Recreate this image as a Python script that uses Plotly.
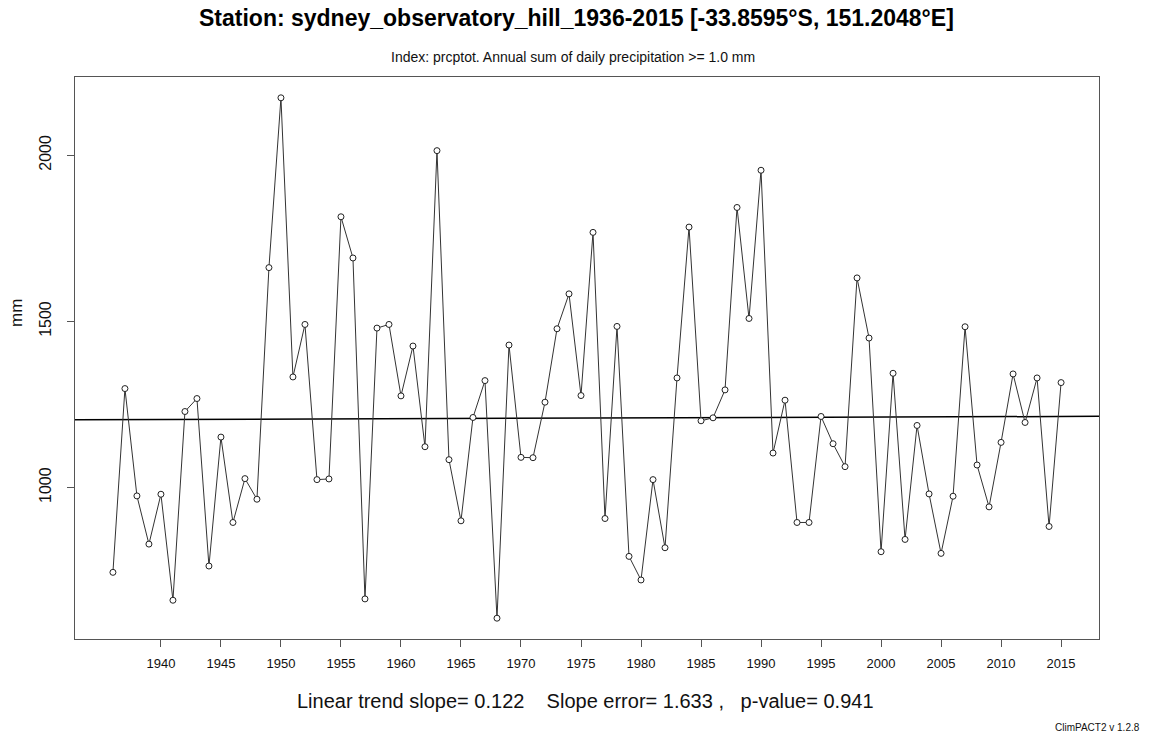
import numpy as np
import plotly.graph_objects as go

years = list(range(1936, 2016))
prcptot = [
    745, 1298, 975, 830, 980, 661, 1229, 1268, 764, 1152,
    895, 1027, 965, 1662, 2173, 1333, 1491, 1024, 1026, 1815,
    1691, 665, 1480, 1491, 1276, 1426, 1123, 2014, 1084, 900,
    1211, 1322, 607, 1429, 1091, 1090, 1257, 1478, 1583, 1277,
    1768, 907, 1485, 793, 722, 1024, 819, 1330, 1784, 1201,
    1210, 1294, 1843, 1509, 1955, 1104, 1263, 895, 895, 1214,
    1132, 1063, 1631, 1450, 807, 1344, 844, 1187, 981, 802,
    974, 1484, 1068, 942, 1136, 1342, 1196, 1330, 883, 1316,
]
x_ticks = list(range(1940, 2016, 5))
y_ticks = [1000, 1500, 2000]

trend_slope = 0.122
title = "Station: sydney_observatory_hill_1936-2015 [-33.8595°S, 151.2048°E]"
subtitle = "Index: prcptot. Annual sum of daily precipitation >= 1.0 mm"
stats_text = "Linear trend slope= 0.122    Slope error= 1.633 ,   p-value= 0.941"
version_text = "ClimPACT2 v 1.2.8"

yr = np.array(years, dtype=float)
val = np.array(prcptot, dtype=float)

# R-style 4% axis extension
xpad = 0.04 * (yr.max() - yr.min())
ypad = 0.04 * (val.max() - val.min())
xr = [yr.min() - xpad, yr.max() + xpad]
yrng = [val.min() - ypad, val.max() + ypad]

# trend line through mean point with stated slope
xm, ym = yr.mean(), val.mean()
trend_x = xr
trend_y = [ym + trend_slope * (x - xm) for x in trend_x]

font = "Liberation Sans, Arial, Helvetica, sans-serif"

W, H = 1152, 733
ML, MR, MT, MB = 75, 53, 77, 94
plot_h = H - MT - MB
plot_w = W - ML - MR

def py(pix_y):
    return (H - MB - pix_y) / plot_h

def px(pix_x):
    return (pix_x - ML) / plot_w

fig = go.Figure()
fig.add_trace(go.Scatter(
    x=trend_x, y=trend_y, mode="lines",
    line=dict(color="#000000", width=1.5), hoverinfo="skip", showlegend=False,
))
fig.add_trace(go.Scatter(
    x=years, y=prcptot, mode="lines+markers",
    line=dict(color="#333333", width=1),
    marker=dict(symbol="circle", size=6, color="white",
                line=dict(color="#222222", width=1)),
    showlegend=False,
))

fig.update_layout(
    width=W, height=H,
    margin=dict(l=ML, r=MR, t=MT, b=MB),
    paper_bgcolor="white", plot_bgcolor="white",
    font=dict(family=font, color="#111111"),
    annotations=[
        dict(text="<b>" + title + "</b>", xref="paper", yref="paper",
             x=px(576), y=py(18), xanchor="center", yanchor="middle",
             showarrow=False, font=dict(size=23, family=font, color="#000000")),
        dict(text=subtitle, xref="paper", yref="paper",
             x=px(573), y=py(57), xanchor="center", yanchor="middle",
             showarrow=False, font=dict(size=14, family=font, color="#111111")),
        dict(text=stats_text, xref="paper", yref="paper",
             x=px(585), y=py(701), xanchor="center", yanchor="middle",
             showarrow=False, font=dict(size=20, family=font, color="#111111")),
        dict(text=version_text, xref="paper", yref="paper",
             x=px(1142), y=py(727), xanchor="right", yanchor="middle",
             showarrow=False, font=dict(size=10, family=font, color="#111111")),
        dict(text="mm", xref="paper", yref="paper",
             x=px(16), y=py(313), xanchor="center", yanchor="middle", textangle=-90,
             showarrow=False, font=dict(size=17, family=font, color="#111111")),
    ],
)

fig.update_xaxes(
    range=xr, tickmode="array", tickvals=x_ticks, ticktext=[str(t) for t in x_ticks],
    showgrid=False, zeroline=False, showline=True, linecolor="#555555", linewidth=1,
    mirror=True, ticks="outside", ticklen=7, tickcolor="#555555", automargin=False,
    ticklabelstandoff=5,
    tickfont=dict(size=13, family=font, color="#111111"),
)
fig.update_yaxes(
    range=yrng, tickmode="array", tickvals=y_ticks, ticktext=[str(t) for t in y_ticks],
    showgrid=False, zeroline=False, showline=True, linecolor="#555555", linewidth=1,
    mirror=True, ticks="outside", ticklen=7, tickcolor="#555555", automargin=False,
    tickangle=-90, ticklabelstandoff=10,
    tickfont=dict(size=16, family=font, color="#111111"),
)

fig.write_html("out.html", config={"displayModeBar": False},
               post_script="document.body.style.margin='0px';")
